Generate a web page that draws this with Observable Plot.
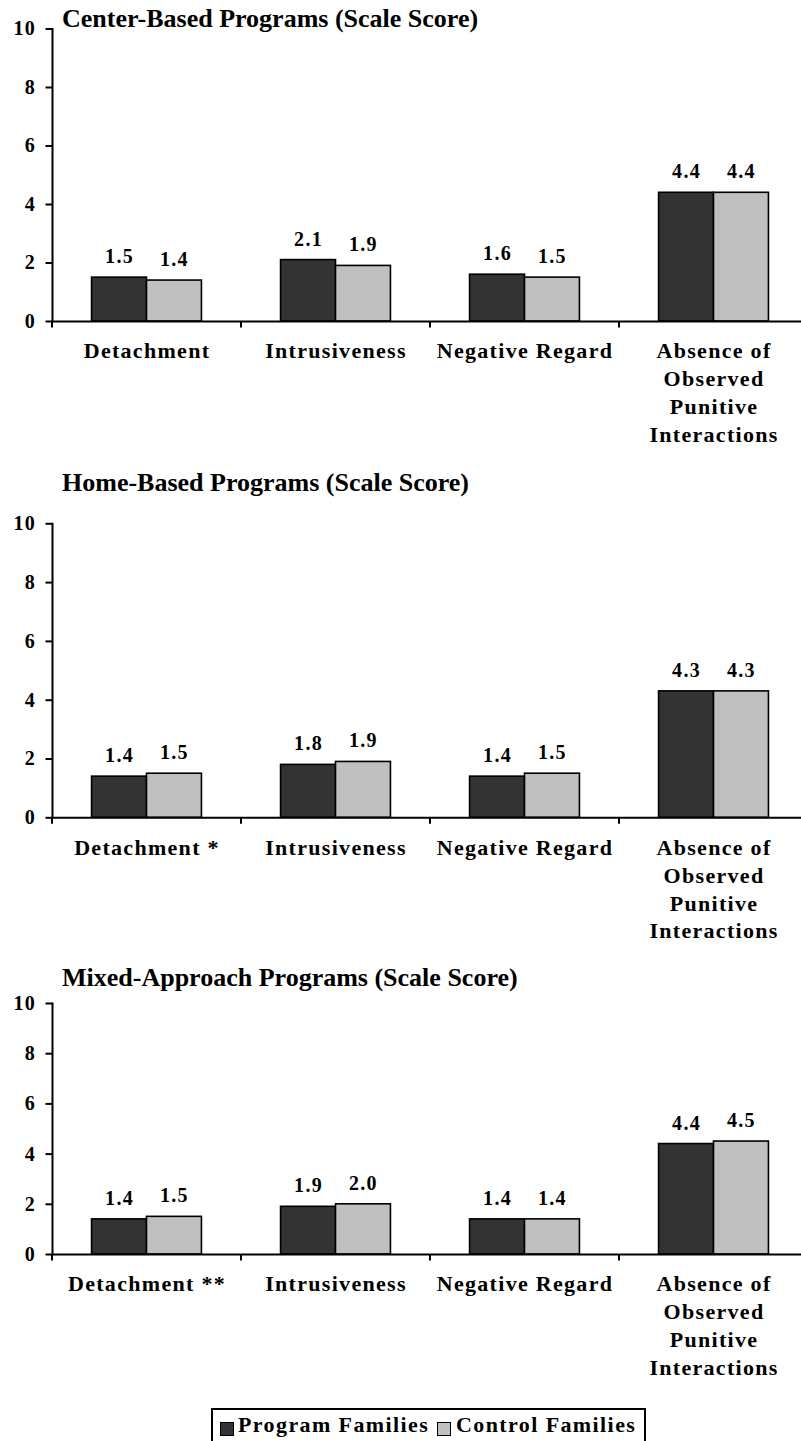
<!DOCTYPE html>
<html>
<head>
<meta charset="utf-8">
<script src="https://cdn.jsdelivr.net/npm/d3@7"></script>
<script src="https://cdn.jsdelivr.net/npm/@observablehq/plot@0.6"></script>
<style>
  html, body { margin: 0; padding: 0; background: #fff; }
  #root { position: relative; width: 801px; height: 1441px; overflow: hidden;
          font-family: "Liberation Serif", "Times New Roman", serif; font-weight: bold; color: #000; }
  .title { position: absolute; left: 62px; font-size: 26px; line-height: 26px; white-space: nowrap; }
  .panel { position: absolute; left: 0; }
  .panel svg, .panel svg text, .panel svg tspan {
    font-family: "Liberation Serif", "Times New Roman", serif !important; font-weight: bold !important; }
  .panel svg text { letter-spacing: 1.3px; }
  .panel svg line, .panel svg path { stroke-width: 2px; }
  #legend { position: absolute; left: 211px; top: 1408px; width: 435px; height: 50px;
            box-sizing: border-box; border: 2px solid #000; background: #fff; }
  #legend .sw { position: absolute; top: 12px; width: 14px; height: 14px; box-sizing: border-box; border: 1px solid #000; }
  #legend .lab { position: absolute; top: 4px; font-size: 22px; line-height: 22px; letter-spacing: 1.4px; white-space: nowrap; }
</style>
</head>
<body>
<div id="root"></div>
<script>
// ---- data ----
const categories = ["Detachment", "Intrusiveness", "Negative Regard", "Absence of Observed Punitive Interactions"];
const series = ["Program Families", "Control Families"];
const seriesColors = ["#333333", "#c0c0c0"];
const yTicks = [0, 2, 4, 6, 8, 10];

const titleCenter = "Center-Based Programs (Scale Score)";
const titleHome = "Home-Based Programs (Scale Score)";
const titleMixed = "Mixed-Approach Programs (Scale Score)";

const labelsCenter = ["Detachment", "Intrusiveness", "Negative Regard", "Absence of\nObserved\nPunitive\nInteractions"];
const labelsHome = ["Detachment *", "Intrusiveness", "Negative Regard", "Absence of\nObserved\nPunitive\nInteractions"];
const labelsMixed = ["Detachment **", "Intrusiveness", "Negative Regard", "Absence of\nObserved\nPunitive\nInteractions"];

const centerProgram = [1.5, 2.1, 1.6, 4.4];
const centerControl = [1.4, 1.9, 1.5, 4.4];
const homeProgram = [1.4, 1.8, 1.4, 4.3];
const homeControl = [1.5, 1.9, 1.5, 4.3];
const mixedProgram = [1.4, 1.9, 1.4, 4.4];
const mixedControl = [1.5, 2.0, 1.4, 4.5];

// ---- drawing ----
const root = document.getElementById("root");

// category-boundary tick at the left edge of each facet
function boundaryTick(index, scales, values, dimensions) {
  const y0 = scales.y(0);
  const x0 = dimensions.marginLeft;
  const g = d3.create("svg:g");
  g.append("line").attr("x1", x0).attr("x2", x0).attr("y1", y0).attr("y2", y0 + 6.5)
    .attr("stroke", "#000").attr("stroke-width", 2);
  return g.node();
}

function makePanel(program, control, labels, cfg) {
  const rows = [];
  categories.forEach((c, i) => {
    rows.push({category: c, label: labels[i], series: series[0], value: program[i]});
    rows.push({category: c, label: labels[i], series: series[1], value: control[i]});
  });
  const chart = Plot.plot({
    width: 801,
    height: cfg.height,
    marginTop: cfg.marginTop,
    marginBottom: cfg.marginBottom,
    marginLeft: 52,
    marginRight: -7,
    style: {fontFamily: "'Liberation Serif', 'Times New Roman', serif", fontWeight: "bold",
            fontSize: "20px", background: "none", overflow: "visible", color: "#000"},
    facet: {data: rows, x: "category"},
    fx: {domain: categories, padding: 0, axis: null, label: null},
    x: {domain: series, paddingInner: 0, paddingOuter: 0.72, round: false, axis: null, label: null},
    y: {domain: [0, 10], ticks: yTicks, tickSize: 6.5, tickPadding: 10, label: null, line: true,
        tickFormat: d => String(d)},
    color: {domain: series, range: seriesColors},
    marks: [
      Plot.barY(rows, {x: "series", y: "value", fill: "series", stroke: "#000", strokeWidth: 1.6}),
      Plot.ruleY([0], {stroke: "#000", strokeWidth: 2}),
      boundaryTick,
      Plot.text(rows, {x: "series", y: "value", text: d => d.value.toFixed(1),
                       dy: -14.5, lineAnchor: "bottom", fontSize: 20}),
      Plot.text(rows, {filter: d => d.series === series[0], text: "label",
                       frameAnchor: "bottom", lineAnchor: "top", dy: 17, lineHeight: 1.27, fontSize: 22})
    ]
  });
  const wrap = document.createElement("div");
  wrap.className = "panel";
  wrap.style.top = cfg.top + "px";
  wrap.appendChild(chart);
  root.appendChild(wrap);

  const t = document.createElement("div");
  t.className = "title";
  t.style.top = cfg.titleTop + "px";
  t.textContent = cfg.title;
  root.appendChild(t);
}

makePanel(centerProgram, centerControl, labelsCenter,
  {top: 0, height: 460, marginTop: 28.5, marginBottom: 139, title: titleCenter, titleTop: 5.5});
makePanel(homeProgram, homeControl, labelsHome,
  {top: 490, height: 470, marginTop: 33.3, marginBottom: 142.7, title: titleHome, titleTop: 469.5});
makePanel(mixedProgram, mixedControl, labelsMixed,
  {top: 975, height: 420, marginTop: 28, marginBottom: 141, title: titleMixed, titleTop: 964.7});

// legend
const legend = document.createElement("div");
legend.id = "legend";
const swLeft = [7, 224];
const labLeft = [25, 243];
series.forEach((s, i) => {
  const sw = document.createElement("span");
  sw.className = "sw";
  sw.style.left = swLeft[i] + "px";
  sw.style.background = seriesColors[i];
  legend.appendChild(sw);
  const lab = document.createElement("span");
  lab.className = "lab";
  lab.style.left = labLeft[i] + "px";
  lab.textContent = s;
  legend.appendChild(lab);
});
root.appendChild(legend);
</script>
</body>
</html>
